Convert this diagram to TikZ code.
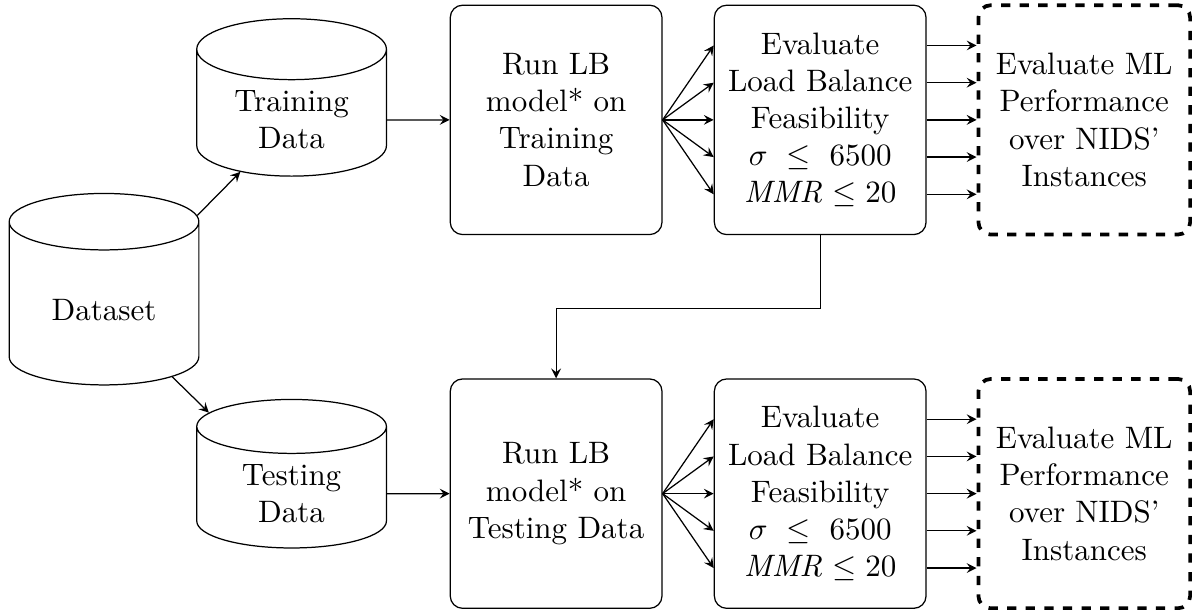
\documentclass[tikz,border=0pt]{standalone}
\usepackage{amsmath}
\usepackage{amssymb}
\usetikzlibrary{shapes.geometric}

\begin{document}
\begin{tikzpicture}[>=stealth,
  db/.style={cylinder,shape border rotate=90,aspect=0.45,draw,align=center,minimum width=2.15cm},
  box/.style={draw,rounded corners,align=center,minimum width=2.4cm,minimum height=2.6cm},
  res/.style={box,very thick,dashed}]
%\draw[help lines] (0,0) grid (14,7);
\useasboundingbox (0,0) rectangle (13.51,6.904);
\node[db,minimum height=2.17cm] (data) at (1.179,3.390) {Dataset};
\node[db,minimum height=1.47cm] (train) at (3.305,5.545) {Training\\Data};
\node[db,minimum height=1.47cm] (test) at (3.305,1.309) {Testing\\Data};
\node[box] (run1) at (6.303,5.545) {Run LB\\model* on\\Training\\Data};
\node[box] (run2) at (6.303,1.309) {Run LB\\model* on\\Testing Data};
\node[box] (eval1) at (9.296,5.545) {Evaluate\\Load Balance\\Feasibility\\$\sigma\ \leq\ 6500$\\\textit{MMR} $\leq 20$};
\node[box] (eval2) at (9.296,1.309) {Evaluate\\Load Balance\\Feasibility\\$\sigma\ \leq\ 6500$\\\textit{MMR} $\leq 20$};
\node[res] (res1) at (12.289,5.545) {Evaluate ML\\Performance\\over NIDS'\\Instances};
\node[res] (res2) at (12.289,1.309) {Evaluate ML\\Performance\\over NIDS'\\Instances};
\foreach \s/\t in {data/train, data/test, train/run1, test/run2}
  \draw[->] (\s) -- (\t);
\foreach \r/\e/\m in {run1/eval1/res1, run2/eval2/res2}
  \foreach \d in {-2,...,2} {
    \draw[->] (\r.east) -- ([yshift=\d*12pt]\e.west);
    \draw[->] ([yshift=\d*12pt]\e.east) -- ([yshift=\d*12pt]\m.west);
  }
\draw[->] (eval1.south) -- ++(0,-0.83) -| (run2.north);
\end{tikzpicture}
\end{document}
